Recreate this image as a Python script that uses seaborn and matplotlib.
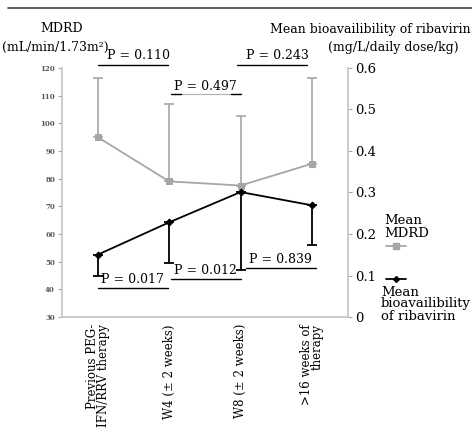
import numpy as np
import pandas as pd
import matplotlib
matplotlib.use("Agg")
import matplotlib.pyplot as plt
from matplotlib.lines import Line2D
import seaborn as sns

categories = ["Previous PEG-\nIFN/RRV therapy", "W4 (\u00b1 2 weeks)",
              "W8 (\u00b1 2 weeks)", ">16 weeks of\ntherapy"]
mdrd_mean = [95.0, 79.0, 77.5, 85.4]
mdrd_err_up = [21.4, 28.1, 25.0, 31.0]
riba_mean = [0.150, 0.228, 0.301, 0.269]
riba_err_down = [0.050, 0.098, 0.188, 0.096]

# p-value brackets: (label, x start, x end, y on MDRD axis)
top_p = [("P = 0.110", 0.0, 0.98, 121.1), ("P = 0.497", 1.02, 2.0, 110.7),
         ("P = 0.243", 1.95, 2.93, 121.1)]
bot_p = [("P = 0.017", 0.0, 0.98, 40.4), ("P = 0.012", 1.03, 2.0, 43.6),
         ("P = 0.839", 2.07, 3.05, 47.6)]

sns.set_style("white")
plt.rcParams["font.family"] = ["DejaVu Serif"]
plt.rcParams["text.color"] = "black"
plt.rcParams["xtick.color"] = "black"
plt.rcParams["ytick.color"] = "black"

df = pd.DataFrame({"x": range(4), "mdrd": mdrd_mean, "riba": riba_mean})

fig = plt.figure(figsize=(4.72, 4.32), dpi=100)
ax = fig.add_axes([0.131, 0.266, 0.606, 0.577])
ax2 = ax.twinx()

grey = "#a6a6a6"
ax.errorbar(df["x"], df["mdrd"], yerr=[np.zeros(4), mdrd_err_up], fmt="none",
            ecolor=grey, elinewidth=1.2, capsize=3.5, capthick=1.2)
sns.lineplot(data=df, x="x", y="mdrd", ax=ax, color=grey, marker="s",
             markersize=5, markeredgecolor=grey, linewidth=1.3)

ax2.errorbar(df["x"], df["riba"], yerr=[riba_err_down, np.zeros(4)], fmt="none",
             ecolor="black", elinewidth=1.3, capsize=3.5, capthick=1.3)
sns.lineplot(data=df, x="x", y="riba", ax=ax2, color="black", marker="D",
             markersize=3.5, markeredgecolor="black", linewidth=1.3)

ax.set_xlim(-0.5, 3.5)
ax.set_ylim(30, 120)
ax2.set_ylim(0, 0.6)
ax.set_yticks(range(30, 121, 10))
ax.set_yticklabels([str(v) for v in range(30, 121, 10)], fontsize=5,
                   color="#555555", fontweight="bold")
ax2.set_yticks([0, 0.1, 0.2, 0.3, 0.4, 0.5, 0.6])
ax2.set_yticklabels(["0", "0.1", "0.2", "0.3", "0.4", "0.5", "0.6"], fontsize=9.5)
ax.set_xticks(range(4))
ax.set_xticklabels(categories, rotation=90, fontsize=8.5, linespacing=0.8,
                   va="top", ha="center", multialignment="right")
ax.set_xticks([-0.5, 0.5, 1.5, 2.5, 3.5], minor=True)
ax.tick_params(axis="x", which="major", length=0, pad=5)
ax.tick_params(axis="x", which="minor", length=3, color=grey, direction="out")
ax.tick_params(axis="y", length=3, color=grey, direction="out", pad=2)
ax2.tick_params(axis="y", length=3, color=grey, direction="out", pad=2)
ax.set_xlabel("")
ax.set_ylabel("")
ax2.set_ylabel("")

for a in (ax, ax2):
    a.spines["top"].set_visible(False)
    for s in ("left", "right", "bottom"):
        a.spines[s].set_color("#c8c8c8")
        a.spines[s].set_linewidth(1.3)
ax.spines["right"].set_visible(False)
ax2.spines["left"].set_visible(False)
ax2.spines["bottom"].set_visible(False)

for label, x0, x1, y in top_p:
    if label == "P = 0.497":
        ax.plot([x0, x1], [y, y], color="#b0b0b0", lw=0.8)
        ax.plot([x0, x0 + 0.14], [y, y], color="black", lw=1.0)
        ax.plot([x1 - 0.14, x1], [y, y], color="black", lw=1.0)
        ax.text((x0 + x1) / 2, y + 0.3, label, ha="center", va="bottom",
                fontsize=9)
    else:
        ax.plot([x0, x1], [y, y], color="black", lw=1.0, clip_on=False)
        ax.text((x0 + x1) / 2 + 0.08, y + 1.0, label, ha="center", va="bottom",
                fontsize=9, clip_on=False)
for label, x0, x1, y in bot_p:
    ax.plot([x0, x1], [y, y], color="black", lw=1.0)
    ax.text((x0 + x1) / 2, y + 0.8, label, ha="center", va="bottom",
            fontsize=9)

fig.text(62 / 472, 1 - 29 / 432, "MDRD", ha="center", va="center", fontsize=9)
fig.text(2 / 472, 1 - 47 / 432, "(mL/min/1.73m\u00b2)", ha="left", va="center",
         fontsize=9)
fig.text(471 / 472, 1 - 29 / 432, "Mean bioavailibility of ribavirin",
         ha="right", va="center", fontsize=9)
fig.text(393 / 472, 1 - 47 / 432, "(mg/L/daily dose/kg)", ha="center",
         va="center", fontsize=9)

# legend drawn by hand (text above the handle)
fig.text(384 / 472, 1 - 227 / 432, "Mean\nMDRD", ha="left", va="center",
         fontsize=9.5, linespacing=0.95)
fig.add_artist(Line2D([386 / 472, 406 / 472], [1 - 246 / 432] * 2, color=grey,
                      lw=1.3, transform=fig.transFigure))
fig.add_artist(Line2D([396 / 472], [1 - 246 / 432], color=grey, marker="s",
                      markersize=4, transform=fig.transFigure))
fig.add_artist(Line2D([386 / 472, 406 / 472], [1 - 279 / 432] * 2,
                      color="black", lw=1.3, transform=fig.transFigure))
fig.add_artist(Line2D([396 / 472], [1 - 279 / 432], color="black", marker="D",
                      markersize=3, transform=fig.transFigure))
fig.text(381 / 472, 1 - 304 / 432, "Mean\nbioavailibility\nof ribavirin",
         ha="left", va="center", fontsize=9.5, linespacing=0.9)

fig.add_artist(Line2D([8 / 472, 1.0], [1 - 8 / 432] * 2, color="#444444",
                      lw=1.2, transform=fig.transFigure))

fig.savefig("out.png", dpi=100)
